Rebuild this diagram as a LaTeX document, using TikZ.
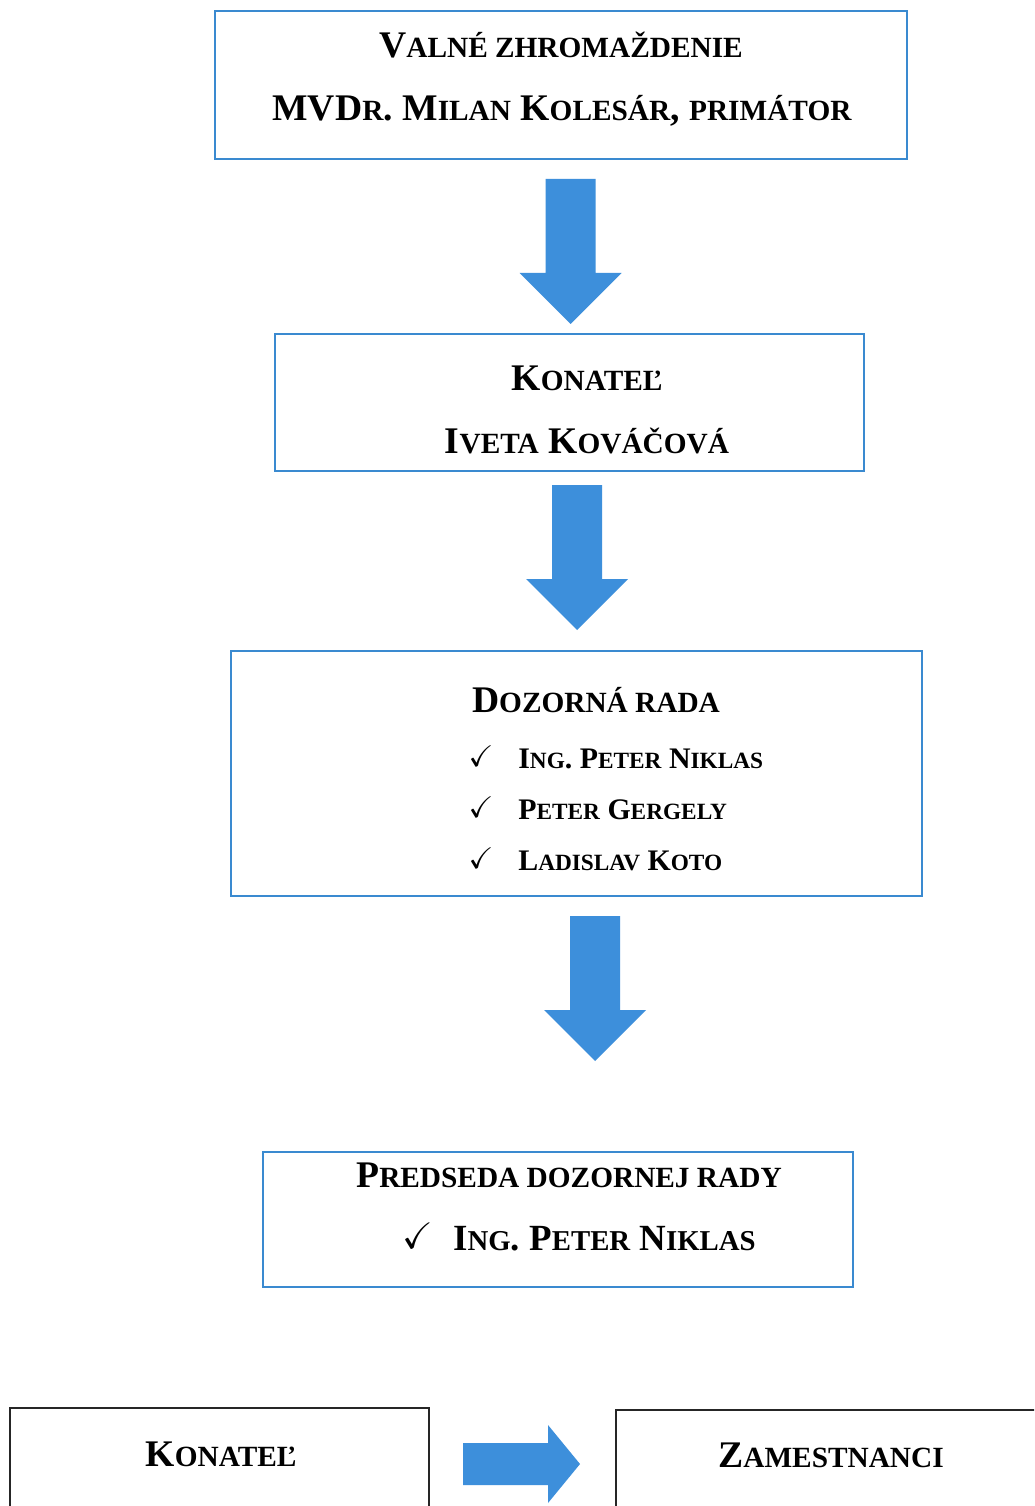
\documentclass[tikz,border=0pt]{standalone}
\usepackage{fontspec}
\usepackage{amssymb}
\setmainfont{Liberation Serif}
\makeatletter
\newcommand\lowcap[1]{{\@tempdima=\f@size pt\relax\@tempdima=0.78\@tempdima
  \fontsize{\strip@pt\@tempdima}{\strip@pt\@tempdima}\selectfont #1}}
\makeatother
\definecolor{arrowblue}{RGB}{61,143,219}
\definecolor{lineblue}{RGB}{58,138,208}
\tikzset{
  box/.style={rectangle,draw=lineblue,line width=1.4pt},
  plainbox/.style={rectangle,draw=black!85,line width=0.7pt},
  lbl/.style={inner sep=0pt,text height=14pt,text depth=0pt,font=\fontsize{21.4}{23}\bfseries\selectfont},
  namelbl/.style={lbl,text height=11pt,font=\fontsize{17}{19}\bfseries\selectfont},
  downarrow/.pic={\fill[arrowblue] (-25,0) -- (25,0) -- (25,94) -- (51,94) -- (0,145) -- (-51,94) -- (-25,94) -- cycle;},
  rightarrow/.pic={\fill[arrowblue] (0,-21) -- (85,-21) -- (85,-39) -- (117,0) -- (85,39) -- (85,21) -- (0,21) -- cycle;}
}
\begin{document}
\begin{tikzpicture}[x=0.02cm,y=-0.02cm]
\useasboundingbox (0,0) rectangle (1034,1506);
\clip (0,0) rectangle (1034,1506);
\fill[white] (0,0) rectangle (1034,1506);
\path
(561,85) node[box,minimum width=13.84cm,minimum height=2.96cm](valne) {}
(569.5,402.5) node[box,minimum width=11.78cm,minimum height=2.74cm](konatel) {}
(576.5,773.5) node[box,minimum width=13.82cm,minimum height=4.9cm](rada) {}
(558,1219.5) node[box,minimum width=11.8cm,minimum height=2.7cm](predseda) {}
(219.5,1469) node[plainbox,minimum width=8.38cm,minimum height=2.44cm](konatelB) {}
(828,1470) node[plainbox,minimum width=8.48cm,minimum height=2.4cm](zamestnanci) {};

% texts
\node[lbl] (valneA) at (561,45) {V\lowcap{ALNÉ ZHROMAŽDENIE}};
\node[lbl] (valneB) at (562,108) {MVD\lowcap{R}. M\lowcap{ILAN} K\lowcap{OLESÁR}, \lowcap{PRIMÁTOR}};
\node[lbl] (konatelA) at (587,378) {K\lowcap{ONATEĽ}};
\node[lbl] (konatelB) at (587,441) {I\lowcap{VETA} K\lowcap{OVÁČOVÁ}};
\node[lbl] (radaA) at (596,700) {D\lowcap{OZORNÁ RADA}};
\foreach \y/\who [count=\i] in {759/I\lowcap{NG}. P\lowcap{ETER} N\lowcap{IKLAS},810/P\lowcap{ETER} G\lowcap{ERGELY},861/L\lowcap{ADISLAV} K\lowcap{OTO}}{
  \node[namelbl] (check\i) at (481,\y-2) {$\checkmark$};
  \node[namelbl,anchor=west] (member\i) at (518,\y) {\who};
}
\node[lbl] (predsedaA) at (569,1175) {P\lowcap{REDSEDA DOZORNEJ RADY}};
\node[lbl,font=\fontsize{21}{23}\bfseries\selectfont] (predsedaC) at (418,1236) {$\checkmark$};
\node[lbl,text height=14pt,font=\fontsize{21}{23}\bfseries\selectfont,anchor=west] (predsedaB) at (453,1238) {I\lowcap{NG}. P\lowcap{ETER} N\lowcap{IKLAS}};
\node[lbl] (konatelBt) at (221,1454) {K\lowcap{ONATEĽ}};
\node[lbl] (zamestnanciT) at (831,1455) {Z\lowcap{AMESTNANCI}};

% arrows
\pic at (570.5,179) {downarrow};
\pic at (577,485) {downarrow};
\pic at (595,916) {downarrow};
\pic at (463,1464) {rightarrow};
\end{tikzpicture}
\end{document}
